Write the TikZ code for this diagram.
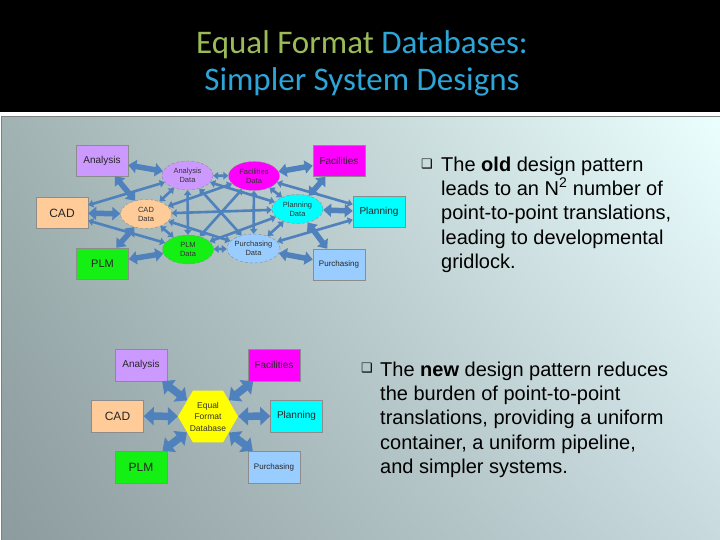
\documentclass[tikz,border=0pt]{standalone}
\usepackage{fontspec}
\setmainfont{Liberation Sans}
\newfontfamily\titlefont{Carlito}
\newfontfamily\symfont{DejaVu Sans}
\usetikzlibrary{arrows.meta,shapes.geometric,shadings}

\definecolor{arrowblue}{RGB}{79,129,189}
\definecolor{titlegreen}{RGB}{155,187,89}
\definecolor{titleblue}{RGB}{45,165,215}
\definecolor{anacol}{RGB}{204,153,255}
\definecolor{cadcol}{RGB}{255,204,153}
\definecolor{plmcol}{RGB}{20,240,20}
\definecolor{faccol}{RGB}{255,0,255}
\definecolor{plncol}{RGB}{0,255,255}
\definecolor{purcol}{RGB}{153,204,255}
\definecolor{hexcol}{RGB}{255,255,0}
\definecolor{bgUL}{RGB}{160,178,178}
\definecolor{bgUR}{RGB}{236,255,255}
\definecolor{bgLL}{RGB}{140,155,158}
\definecolor{bgLR}{RGB}{200,218,222}

\tikzset{
  box/.style={draw=black!45, line width=0.5pt, minimum width=52pt,
    minimum height=31pt, inner sep=0pt, text=black!85,
    font=\fontsize{10}{12}\selectfont},
  data/.style={ellipse, draw=black!45, densely dashed, line width=0.4pt,
    minimum width=51pt, minimum height=29pt, inner sep=0pt, align=center,
    text=black!80, font=\fontsize{7.5}{9}\selectfont},
  fat/.style={draw=arrowblue, line width=5.5pt,
    {Triangle[length=8pt,width=13pt]}-{Triangle[length=8pt,width=13pt]}},
  mesh/.style={draw=arrowblue, line width=2.6pt,
    {Triangle[length=5pt,width=7.5pt]}-{Triangle[length=5pt,width=7.5pt]}},
  bigarrow/.style={draw=arrowblue, line width=7.5pt,
    {Triangle[length=10pt,width=18pt]}-{Triangle[length=10pt,width=18pt]}},
  bullettext/.style={anchor=north west, inner sep=0pt, align=left,
    font=\fontsize{20}{24.3}\selectfont},
}

\begin{document}
\begin{tikzpicture}[x=1pt,y=-1pt]
\useasboundingbox (0,0) rectangle (720,540);
\fill[white] (0,0) rectangle (720,540);
\fill[black] (0,0) rectangle (720,112);
\shade[upper left=bgUL, upper right=bgUR, lower left=bgLL, lower right=bgLR]
  (1,116.5) rectangle (720,540);
\draw[black!50, line width=1pt] (1,540) -- (1,116.5) -- (720,116.5);

% title
\node[anchor=base, font=\titlefont\fontsize{33}{37}\selectfont] (titleA) at (362,54)
  {\textcolor{titlegreen}{Equal Format} \textcolor{titleblue}{Databases:}};
\node[anchor=base, text=titleblue, font=\titlefont\fontsize{33}{37}\selectfont] (titleB) at (362,91)
  {Simpler System Designs};

% old design
\node[box, fill=anacol] (ana) at (102,160.5) {Analysis};
\node[box, fill=cadcol, font=\fontsize{12}{14}\selectfont] (cad) at (62,213) {CAD};
\node[box, fill=plmcol, font=\fontsize{11}{13}\selectfont] (plm) at (102.5,263.5) {PLM};
\node[box, fill=faccol] (fac) at (339,161) {Facilities};
\node[box, fill=plncol] (pln) at (379,212) {Planning};
\node[box, fill=purcol, font=\fontsize{8}{10}\selectfont] (pur) at (339,264.5) {Purchasing};

\node[data, fill=anacol] (anad) at (187.5,175.5) {Analysis\\Data};
\node[data, fill=cadcol] (cadd) at (146,214) {CAD\\Data};
\node[data, fill=plmcol] (plmd) at (188,249.5) {PLM\\Data};
\node[data, fill=faccol] (facd) at (254,176) {Facilities\\Data};
\node[data, fill=plncol] (plnd) at (297.5,209) {Planning\\Data};
\node[data, fill=purcol] (purd) at (253.5,248.5) {Purchasing\\Data};

\draw[fat] (ana) -- (anad);
\draw[fat] (cad) -- (cadd);
\draw[fat] (plm) -- (plmd);
\draw[fat] (fac) -- (facd);
\draw[fat] (pln) -- (plnd);
\draw[fat] (pur) -- (purd);
\draw[fat] (ana) -- (cadd);
\draw[fat] (plm) -- (cadd);
\draw[fat] (fac) -- (plnd);
\draw[fat] (pur) -- (plnd);
\draw[mesh] (cad) -- (anad);
\draw[mesh] (cad) -- (plmd);
\draw[mesh] (pln) -- (facd);
\draw[mesh] (pln) -- (purd);
\draw[mesh] (anad) -- (facd);
\draw[mesh] (anad) -- (cadd);
\draw[mesh] (anad) -- (plmd);
\draw[mesh] (anad) -- (plnd);
\draw[mesh] (anad) -- (purd);
\draw[mesh] (cadd) -- (plmd);
\draw[mesh] (cadd) -- (facd);
\draw[mesh] (cadd) -- (plnd);
\draw[mesh] (cadd) -- (purd);
\draw[mesh] (plmd) -- (facd);
\draw[mesh] (plmd) -- (plnd);
\draw[mesh] (plmd) -- (purd);
\draw[mesh] (facd) -- (plnd);
\draw[mesh] (facd) -- (purd);
\draw[mesh] (plnd) -- (purd);

% new design
\node[box, fill=anacol, minimum height=32pt] (ana2) at (141,365) {Analysis};
\node[box, fill=faccol, minimum height=32pt] (fac2) at (274,365) {Facilities};
\node[box, fill=cadcol, minimum height=32pt, font=\fontsize{12}{14}\selectfont] (cad2) at (117.5,416) {CAD};
\node[box, fill=plncol, minimum height=32pt] (pln2) at (296.5,416) {Planning};
\node[box, fill=plmcol, minimum height=32pt, font=\fontsize{12}{14}\selectfont] (plm2) at (141,467) {PLM};
\node[box, fill=purcol, minimum height=32pt, font=\fontsize{8}{10}\selectfont] (pur2) at (274,467) {Purchasing};
\node[regular polygon, regular polygon sides=6, fill=hexcol, minimum size=60pt,
  inner sep=0pt, align=center, text=black!80, font=\fontsize{8.5}{11.5}\selectfont]
  (hex) at (208,416.5) {Equal\\Format\\Database};

\draw[bigarrow] (ana2) -- (hex);
\draw[bigarrow] (fac2) -- (hex);
\draw[bigarrow] (cad2) -- (hex);
\draw[bigarrow] (pln2) -- (hex);
\draw[bigarrow] (plm2) -- (hex);
\draw[bigarrow] (pur2) -- (hex);

% bullets
\node[font=\symfont\fontsize{13}{15}\selectfont] (dotA) at (427,164) {❑};
\node[bullettext] (oldtext) at (441,156.5) {The \textbf{old} design pattern\\
  leads to an N\textsuperscript{2} number of\\point-to-point translations,\\
  leading to developmental\\gridlock.};
\node[font=\symfont\fontsize{13}{15}\selectfont] (dotB) at (367,368) {❑};
\node[bullettext] (newtext) at (380,361.5) {The \textbf{new} design pattern reduces\\
  the burden of point-to-point\\translations, providing a uniform\\
  container, a uniform pipeline,\\and simpler systems.};
\end{tikzpicture}
\end{document}
